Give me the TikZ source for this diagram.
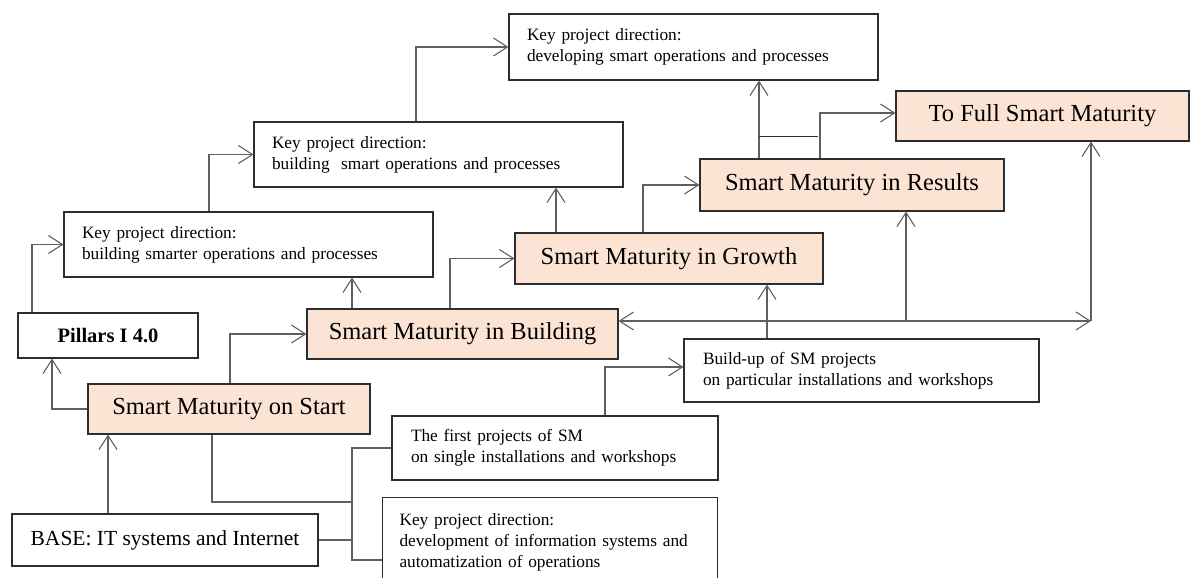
\documentclass[tikz,border=0pt]{standalone}
\usepackage{fontspec}
\setmainfont{Liberation Serif}
\usetikzlibrary{arrows.meta,calc}
\definecolor{peach}{RGB}{252,228,213}
\definecolor{bordc}{RGB}{45,45,45}
\definecolor{connc}{RGB}{95,95,95}
\begin{document}
\begin{tikzpicture}[x=1pt,y=-1pt,
  base/.style={draw=bordc,line width=1.1pt,inner sep=0pt,text=black},
  obox/.style={base,fill=peach,font=\fontsize{24.5}{28}\selectfont},
  wbox/.style={base,fill=white},
  kbox/.style={base,fill=white,inner xsep=18pt,align=left,font=\fontsize{17.3}{21}\selectfont},
  conn/.style={draw=connc,line width=1.1pt},
  arr/.style={conn,-{Straight Barb[length=14pt,width=18pt,line width=1.1pt]}},
  darr/.style={conn,{Straight Barb[length=14pt,width=18pt,line width=1.1pt]}-{Straight Barb[length=14pt,width=18pt,line width=1.1pt]}}
]
\useasboundingbox (0,0) rectangle (1192,578);
% nodes
\node[wbox,minimum width=306pt,minimum height=52pt,font=\fontsize{21.5}{24}\selectfont] (base) at (165,540) {BASE: IT systems and Internet};
\node[wbox,minimum width=180pt,minimum height=45pt,font=\fontsize{20.5}{24}\selectfont\bfseries] (pillars) at (108,335.5) {Pillars I 4.0};
\node[obox,minimum width=282pt,minimum height=50pt] (start) at (229,409) {Smart Maturity on Start};
\node[obox,minimum width=311pt,minimum height=50pt] (building) at (462.5,334) {Smart Maturity in Building};
\node[obox,minimum width=308pt,minimum height=51pt] (growth) at (669,258.5) {Smart Maturity in Growth};
\node[obox,minimum width=304pt,minimum height=52pt] (results) at (852,185) {Smart Maturity in Results};
\node[obox,minimum width=293pt,minimum height=50pt] (tofull) at (1042.5,116) {To Full Smart Maturity};
\node[kbox,text width=333pt,minimum height=65pt] (kp1) at (248.5,244.5) {Key project direction:\\building smarter operations and processes};
\node[kbox,text width=333pt,minimum height=65pt] (kp2) at (438.5,154.5) {Key project direction:\\building\ \ smart operations and processes};
\node[kbox,text width=333pt,minimum height=66pt] (kp3) at (693.5,47) {Key project direction:\\developing smart operations and processes};
\node[kbox,text width=317pt,minimum height=63pt,inner xsep=19pt] (buildup) at (861.5,370.5) {Build-up of SM projects\\on particular installations and workshops};
\node[kbox,text width=288pt,minimum height=64pt,inner xsep=19pt] (first) at (555,448) {The first projects of SM\\on single installations and workshops};
\node[kbox,text width=301pt,inner xsep=17pt,inner ysep=16pt,anchor=north west] (kpdev) at (382,497) {Key project direction:\\development of information systems and\\automatization of operations};
% coordinates
\coordinate (corner) at (1091,321);
\coordinate (rj) at (906,321);
\coordinate (bus) at (352,502);
% connectors
\draw[arr] ([xshift=-57pt]base.north) -- ([xshift=-57pt]base.north |- start.south);
\draw[arr] (start.west) -| ([xshift=-56pt]pillars.south);
\draw[arr] ([xshift=1pt]start.north) |- (building.west);
\draw[arr] ([xshift=-76pt]pillars.north) |- (kp1.west);
\draw[arr] ([xshift=-39.5pt]kp1.north) |- (kp2.west);
\draw[arr] ([xshift=-22.5pt]kp2.north) |- (kp3.west);
\draw[arr] ([xshift=-110.5pt]building.north) -- ([xshift=-110.5pt]building.north |- kp1.south);
\draw[arr] ([xshift=-12.5pt]building.north) |- (growth.west);
\draw[arr] ([xshift=-113pt]growth.north) -- ([xshift=-113pt]growth.north |- kp2.south);
\draw[arr] ([xshift=-26pt]growth.north) |- (results.west);
\draw[arr] ([xshift=-93pt]results.north) -- ([xshift=-93pt]results.north |- kp3.south);
\draw[conn,draw=bordc] ([xshift=-93pt]results.north) ++(0,-22) -- ++(59,0);
\draw[arr] ([xshift=-32pt]results.north) |- ([yshift=3pt]tofull.west);
\draw[arr] ([xshift=-94.5pt]buildup.north) -- ([xshift=-94.5pt]buildup.north |- growth.south);
\draw[darr] ([yshift=13pt]building.east) -- (corner);
\draw[arr] (corner) -- (corner |- tofull.south);
\draw[arr] (rj) -- (rj |- results.south);
\draw[arr] ([xshift=50pt]first.north) |- ([yshift=3.5pt]buildup.west);
\draw[conn] ([xshift=-17pt]start.south) |- (bus);
\draw[conn] (base.east) -- (base.east -| bus);
\draw[conn] (first.west) -| (bus);
\draw[conn] (bus) |- ([yshift=-63pt]kpdev.north west);
\end{tikzpicture}
\end{document}
